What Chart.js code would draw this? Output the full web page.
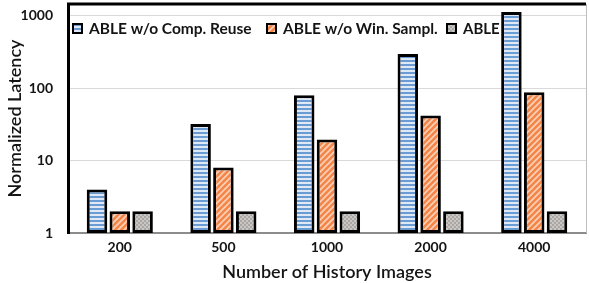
<!DOCTYPE html>
<html><head><meta charset="utf-8">
<script src="https://cdn.jsdelivr.net/npm/chart.js@4"></script>
<style>html,body{margin:0;padding:0;background:#fff}canvas{display:block}</style>
</head><body>
<canvas id="c" width="589" height="283"></canvas>
<script>
const categories = ['200', '500', '1000', '2000', '4000'];
const noCompReuse = [4, 32, 80, 295, 1120];
const noWinSampl = [2, 8, 19.5, 42, 88];
const able = [2, 2, 2, 2, 2];
const seriesLabels = ['ABLE w/o Comp. Reuse', 'ABLE w/o Win. Sampl.', 'ABLE'];
const yTicks = [1, 10, 100, 1000];

const FONT = 'Lato, "Open Sans", sans-serif';
const legendBoxX = [73, 267, 447];

function makePattern(kind) {
  const c = document.createElement('canvas');
  const x = c.getContext('2d');
  if (kind === 'blue') {
    c.width = 4; c.height = 4;
    x.fillStyle = '#dfe9f6'; x.fillRect(0, 0, 4, 4);
    x.fillStyle = '#6a9bd3'; x.fillRect(0, 0, 4, 2);
  } else if (kind === 'orange') {
    c.width = 6; c.height = 6;
    x.fillStyle = '#f4864a'; x.fillRect(0, 0, 6, 6);
    x.strokeStyle = '#fbd2b8'; x.lineWidth = 1.6;
    x.beginPath();
    x.moveTo(-1, 7); x.lineTo(7, -1);
    x.moveTo(-4, 4); x.lineTo(4, -4);
    x.moveTo(2, 10); x.lineTo(10, 2);
    x.stroke();
  } else {
    c.width = 4; c.height = 4;
    x.fillStyle = '#c9c6c3'; x.fillRect(0, 0, 4, 4);
    x.fillStyle = '#a9a6a3'; x.fillRect(0, 0, 2, 2); x.fillRect(2, 2, 2, 2);
  }
  return document.getElementById('c').getContext('2d').createPattern(c, 'repeat');
}
const fills = [makePattern('blue'), makePattern('orange'), makePattern('gray')];

const framePlugin = {
  id: 'frame',
  afterDraw(chart) {
    const { ctx, chartArea: a } = chart;
    ctx.save();
    ctx.strokeStyle = '#000'; ctx.lineWidth = 3;
    ctx.beginPath(); ctx.moveTo(a.left - 1, a.top); ctx.lineTo(a.right, a.top); ctx.stroke();
    ctx.strokeStyle = '#bfbfbf'; ctx.lineWidth = 1;
    ctx.beginPath(); ctx.moveTo(a.right + 0.5, a.top); ctx.lineTo(a.right + 0.5, a.bottom); ctx.stroke();
    ctx.textBaseline = 'middle';
    const yc = 29;
    seriesLabels.forEach((lab, i) => {
      const x = legendBoxX[i];
      ctx.fillStyle = fills[i];
      ctx.fillRect(x, yc - 5, 9, 9);
      ctx.strokeStyle = '#000'; ctx.lineWidth = 2;
      ctx.strokeRect(x, yc - 5, 9, 9);
      ctx.fillStyle = '#141414';
      ctx.font = 'bold ' + (i === 2 ? 15 : 15.5) + 'px ' + FONT;
      ctx.fillText(lab, x + 16, yc);
    });
    ctx.restore();
  }
};

new Chart(document.getElementById('c'), {
  type: 'bar',
  data: {
    labels: categories,
    datasets: [
      { label: seriesLabels[0], data: noCompReuse, backgroundColor: fills[0] },
      { label: seriesLabels[1], data: noWinSampl, backgroundColor: fills[1] },
      { label: seriesLabels[2], data: able, backgroundColor: fills[2] }
    ].map(d => Object.assign(d, { borderColor: '#000', borderWidth: 3, borderSkipped: false,
      categoryPercentage: 0.66, barPercentage: 0.9 }))
  },
  options: {
    responsive: false,
    devicePixelRatio: 1,
    animation: false,
    layout: { padding: { top: 4, right: 3, left: 0, bottom: 0 } },
    plugins: { legend: { display: false }, tooltip: { enabled: false } },
    scales: {
      x: {
        grid: { display: false, drawTicks: false },
        border: { color: '#8c8c8c', width: 2 },
        ticks: { color: '#141414', font: { family: FONT, size: 14, weight: 'bold' }, padding: 6 },
        title: { display: true, text: 'Number of History Images', color: '#141414',
          font: { family: FONT, size: 18, weight: '600' }, padding: { top: 1, bottom: 0 } },
        afterFit(s) { s.height = 50; s.paddingLeft = 0; s.paddingRight = 0; }
      },
      y: {
        type: 'logarithmic',
        min: 1, max: 1450,
        afterBuildTicks(s) { s.ticks = yTicks.map(v => ({ value: v })); },
        grid: { color: '#d9d9d9', lineWidth: 1, drawTicks: false },
        border: { color: '#000', width: 3 },
        ticks: { color: '#141414', font: { family: FONT, size: 14, weight: 'bold' }, padding: 15,
          callback: v => String(v) },
        title: { display: true, text: 'Normalized Latency', color: '#141414',
          font: { family: FONT, size: 18, weight: '600' }, padding: { top: 4, bottom: 0 } },
        afterFit(s) { s.width = 68; s.paddingTop = 0; s.paddingBottom = 0; }
      }
    }
  },
  plugins: [framePlugin]
});
</script>
</body></html>
